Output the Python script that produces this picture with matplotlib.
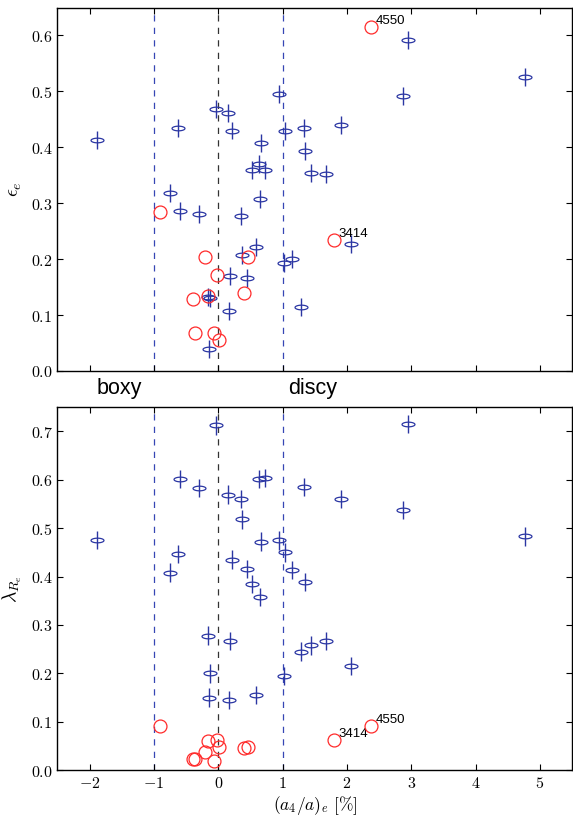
import numpy as np
import matplotlib
matplotlib.use("Agg")
import matplotlib.pyplot as plt
from matplotlib.path import Path

plt.rcParams['mathtext.fontset'] = 'cm'
plt.rcParams['font.family'] = ['DejaVu Serif']

# Fast-rotator / main sample (blue ellipses with error bars)
a4_blue = [-1.89, -0.747, -0.62, -0.597, -0.293, -0.16, -0.13, -0.144, -0.035,
           0.15, 0.165, 0.217, 0.185, 0.351, 0.361, 0.444, 0.53, 0.593, 0.634,
           0.645, 0.67, 0.72, 0.943, 1.03, 1.02, 1.14, 1.29, 1.33, 1.35, 1.435,
           1.67, 1.91, 2.06, 2.878, 2.944, 4.762]
eps_blue = [0.413, 0.319, 0.435, 0.286, 0.280, 0.133, 0.130, 0.039, 0.468,
            0.461, 0.107, 0.430, 0.170, 0.277, 0.208, 0.167, 0.359, 0.221, 0.370,
            0.307, 0.408, 0.359, 0.495, 0.429, 0.193, 0.200, 0.114, 0.434, 0.393, 0.354,
            0.352, 0.4405, 0.227, 0.492, 0.592, 0.526]
lam_blue = [0.475, 0.408, 0.446, 0.602, 0.583, 0.278, 0.200, 0.150, 0.712,
            0.569, 0.145, 0.435, 0.267, 0.560, 0.518, 0.415, 0.384, 0.155, 0.601,
            0.3575, 0.472, 0.603, 0.4745, 0.450, 0.1945, 0.414, 0.245, 0.585, 0.389, 0.258,
            0.2675, 0.560, 0.215, 0.538, 0.715, 0.483]
eps_err = 0.016
lam_err = 0.019

# Slow rotators (red open circles)
a4_red = [-0.912, -0.20, -0.025, 0.456, -0.396, -0.165, 0.405, -0.37, -0.062,
          0.008, 2.374, 1.80]
eps_red = [0.284, 0.203, 0.171, 0.204, 0.129, 0.135, 0.140, 0.068, 0.068,
           0.055, 0.615, 0.234]
lam_red = [0.092, 0.038, 0.0625, 0.0487, 0.0227, 0.060, 0.045, 0.0233, 0.019,
           0.0487, 0.091, 0.0625]
labels_red = ['', '', '', '', '', '', '', '', '', '', '4550', '3414']

xticks = [-2, -1, 0, 1, 2, 3, 4, 5]

blue = '#2b36a3'
red = '#ff2a2a'
dblue = '#3646b4'

# flattened ellipse marker
t = np.linspace(0, 2 * np.pi, 60)
ell = Path(np.column_stack([np.cos(t), 0.36 * np.sin(t)]), closed=True)

fig = plt.figure(figsize=(5.73, 8.17), dpi=100)
ax1 = fig.add_axes([0.1003, 0.5459, 0.8983, 0.4449])
ax2 = fig.add_axes([0.1003, 0.0572, 0.8983, 0.4446])

def draw(ax, yb, yr, yerr, ylim, yticks, ylabel):
    for xv in (-1, 1):
        ax.axvline(xv, color=dblue, lw=0.9, ls=(0, (5, 5)), zorder=1)
    ax.axvline(0, color='#333333', lw=0.9, ls=(0, (5, 5)), zorder=1)
    ax.errorbar(a4_blue, yb, yerr=yerr, fmt='none', ecolor=blue, elinewidth=1.0,
                capsize=0, zorder=2)
    ax.plot(a4_blue, yb, ls='none', marker=ell, markersize=9.3,
            markerfacecolor='none', markeredgecolor=blue, markeredgewidth=0.9, zorder=3)
    ax.plot(a4_red, yr, ls='none', marker='o', markersize=9.3,
            markerfacecolor='none', markeredgecolor=red, markeredgewidth=0.9, zorder=4)
    for xv, yv, s in zip(a4_red, yr, labels_red):
        if s:
            ax.annotate(s, (xv, yv), xytext=(3, 2), textcoords='offset points',
                        fontsize=9.5, family='Liberation Sans', color='black')
    ax.set_xlim(-2.5, 5.5)
    ax.set_ylim(*ylim)
    ax.set_xticks(xticks)
    ax.set_yticks(yticks)
    ax.set_yticklabels([r'$%.1f$' % v for v in yticks])
    ax.tick_params(direction='in', top=True, right=True, length=4, width=0.8,
                   labelsize=11.5)
    for sp in ax.spines.values():
        sp.set_linewidth(1.0)
    ax.set_ylabel(ylabel, fontsize=14, labelpad=5)

draw(ax1, eps_blue, eps_red, eps_err, (0, 0.65), [0.0, 0.1, 0.2, 0.3, 0.4, 0.5, 0.6],
     r'$\epsilon_e$')
draw(ax2, lam_blue, lam_red, lam_err, (0, 0.75),
     [0.0, 0.1, 0.2, 0.3, 0.4, 0.5, 0.6, 0.7], r'$\lambda_{R_e}$')

ax1.set_xticklabels([])
ax2.set_xticklabels([r'$%d$' % v for v in xticks])
ax2.set_xlabel(r'$(a_4/a)_e\ [\%]$', fontsize=12.5, labelpad=1)

ax1.text(-1.89, -0.063, 'boxy', transform=ax1.get_xaxis_transform(),
         fontsize=15.5, family='Liberation Sans', va='baseline', ha='left')
ax1.text(1.09, -0.063, 'discy', transform=ax1.get_xaxis_transform(),
         fontsize=15.5, family='Liberation Sans', va='baseline', ha='left')

fig.savefig('out.png', dpi=100)
